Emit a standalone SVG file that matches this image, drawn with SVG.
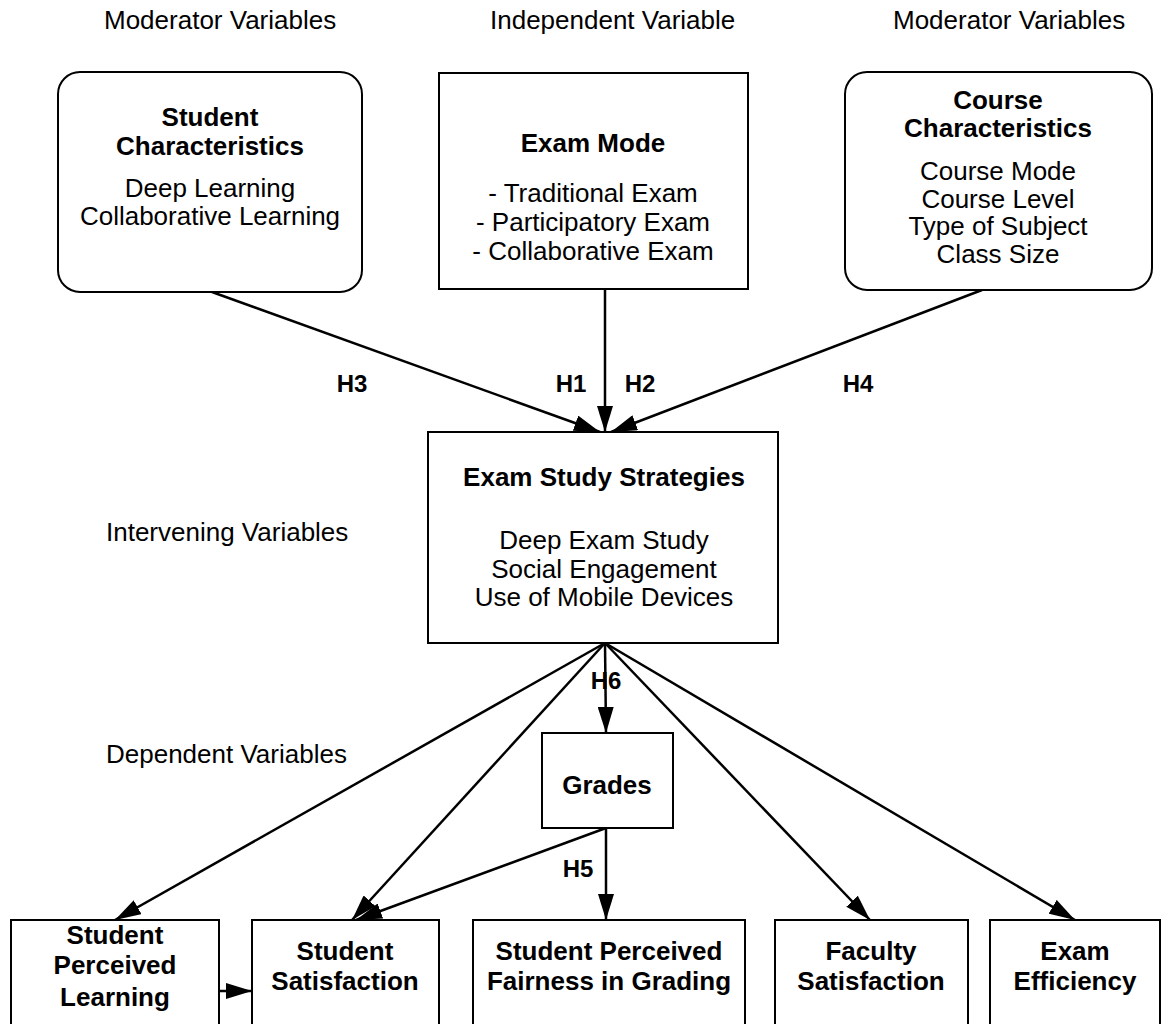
<svg xmlns="http://www.w3.org/2000/svg" width="1161" height="1024" viewBox="0 0 1161 1024">
  <style>
    .box { fill: #ffffff; stroke: #000000; stroke-width: 2; }
    .t { font-family: "Liberation Sans", Arial, sans-serif; font-size: 26px; fill: #000000; text-anchor: middle; }
    .b { font-weight: bold; }
    .lbl { font-family: "Liberation Sans", Arial, sans-serif; font-size: 26px; fill: #000000; }
    .h { font-family: "Liberation Sans", Arial, sans-serif; font-size: 24px; font-weight: bold; fill: #000000; text-anchor: middle; }
    .edge { stroke: #000000; stroke-width: 2.5; fill: none; marker-end: url(#arrow); }
  </style>
  <defs>
    <marker id="arrow" markerUnits="userSpaceOnUse" markerWidth="26" markerHeight="16" refX="26" refY="8" orient="auto">
      <path d="M0,0 L26,8 L0,16 z" fill="#000000"/>
    </marker>
  </defs>

  <rect width="1161" height="1024" fill="#ffffff"/>

  <!-- section labels -->
  <g id="labels">
    <text class="lbl" x="104" y="29">Moderator Variables</text>
    <text class="lbl" x="490" y="29">Independent Variable</text>
    <text class="lbl" x="893" y="29">Moderator Variables</text>
    <text class="lbl" x="106" y="541">Intervening Variables</text>
    <text class="lbl" x="106" y="763">Dependent Variables</text>
  </g>

  <!-- connectors (H6 label sits under its line) -->
  <g id="connectors">
    <text class="h" x="352" y="392">H3</text>
    <text class="h" x="571" y="392">H1</text>
    <text class="h" x="640" y="392">H2</text>
    <text class="h" x="858" y="392">H4</text>
    <text class="h" x="606" y="689">H6</text>
    <text class="h" x="578" y="877">H5</text>
    <line class="edge" x1="212" y1="292" x2="600" y2="432"/>
    <line class="edge" x1="605" y1="289" x2="605" y2="432"/>
    <line class="edge" x1="982" y1="290" x2="611" y2="432"/>
    <line class="edge" x1="605" y1="643" x2="115" y2="920"/>
    <line class="edge" x1="605" y1="643" x2="352" y2="920"/>
    <line class="edge" x1="605" y1="643" x2="606" y2="733"/>
    <line class="edge" x1="605" y1="643" x2="870" y2="920"/>
    <line class="edge" x1="605" y1="643" x2="1075" y2="920"/>
    <line class="edge" x1="606" y1="828" x2="356" y2="920"/>
    <line class="edge" x1="606" y1="828" x2="606" y2="920"/>
    <line class="edge" x1="219" y1="991" x2="252" y2="991"/>
  </g>

  <g id="student-characteristics">
    <rect class="box" x="58" y="72" width="304" height="220" rx="22" ry="22"/>
    <text class="t b" x="210" y="126">Student</text>
    <text class="t b" x="210" y="155">Characteristics</text>
    <text class="t" x="210" y="197">Deep Learning</text>
    <text class="t" x="210" y="225">Collaborative Learning</text>
  </g>

  <g id="exam-mode">
    <rect class="box" x="439" y="73" width="309" height="216"/>
    <text class="t b" x="593" y="152">Exam Mode</text>
    <text class="t" x="593" y="202">- Traditional Exam</text>
    <text class="t" x="593" y="231">- Participatory Exam</text>
    <text class="t" x="593" y="260">- Collaborative Exam</text>
  </g>

  <g id="course-characteristics">
    <rect class="box" x="845" y="72" width="307" height="218" rx="22" ry="22"/>
    <text class="t b" x="998" y="109">Course</text>
    <text class="t b" x="998" y="137">Characteristics</text>
    <text class="t" x="998" y="180">Course Mode</text>
    <text class="t" x="998" y="208">Course Level</text>
    <text class="t" x="998" y="235">Type of Subject</text>
    <text class="t" x="998" y="263">Class Size</text>
  </g>

  <g id="exam-study-strategies">
    <rect class="box" x="428" y="432" width="350" height="211"/>
    <text class="t b" x="604" y="486">Exam Study Strategies</text>
    <text class="t" x="604" y="549">Deep Exam Study</text>
    <text class="t" x="604" y="578">Social Engagement</text>
    <text class="t" x="604" y="606">Use of Mobile Devices</text>
  </g>

  <g id="grades">
    <rect class="box" x="542" y="733" width="131" height="95"/>
    <text class="t b" x="607" y="794">Grades</text>
  </g>

  <g id="student-perceived-learning">
    <rect class="box" x="11" y="920" width="208" height="120"/>
    <text class="t b" x="115" y="944">Student</text>
    <text class="t b" x="115" y="974">Perceived</text>
    <text class="t b" x="115" y="1006">Learning</text>
  </g>

  <g id="student-satisfaction">
    <rect class="box" x="252" y="920" width="187" height="120"/>
    <text class="t b" x="345" y="960">Student</text>
    <text class="t b" x="345" y="990">Satisfaction</text>
  </g>

  <g id="fairness-in-grading">
    <rect class="box" x="473" y="920" width="272" height="120"/>
    <text class="t b" x="609" y="960">Student Perceived</text>
    <text class="t b" x="609" y="990">Fairness in Grading</text>
  </g>

  <g id="faculty-satisfaction">
    <rect class="box" x="775" y="920" width="193" height="120"/>
    <text class="t b" x="871" y="960">Faculty</text>
    <text class="t b" x="871" y="990">Satisfaction</text>
  </g>

  <g id="exam-efficiency">
    <rect class="box" x="990" y="920" width="170" height="120"/>
    <text class="t b" x="1075" y="960">Exam</text>
    <text class="t b" x="1075" y="990">Efficiency</text>
  </g>
</svg>
